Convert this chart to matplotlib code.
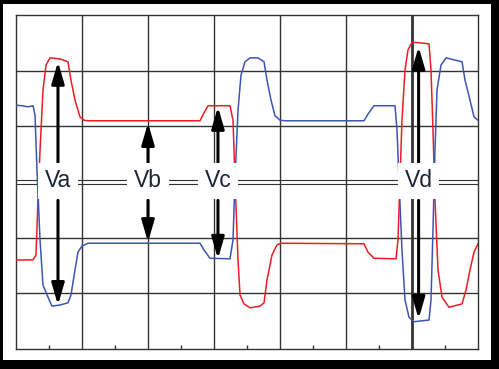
import numpy as np
import matplotlib
matplotlib.use("Agg")
import matplotlib.pyplot as plt
from matplotlib.patches import Rectangle

# Waveform data in grid divisions (x: 0..7, y: -3..3)
red_x = [0.0, 0.258, 0.303, 0.333, 0.364, 0.409, 0.455, 0.515, 0.667, 0.788, 0.833, 0.894, 0.970, 1.030,
         1.091, 2.788, 2.848, 2.909, 3.242, 3.288, 3.318, 3.364, 3.394, 3.455, 3.545, 3.697, 3.758, 3.803,
         3.879, 3.955, 4.015, 5.273, 5.333, 5.424, 5.758, 5.788, 5.818, 5.848, 5.894, 5.939, 6.000, 6.121,
         6.258, 6.288, 6.318, 6.348, 6.394, 6.455, 6.561, 6.758, 6.818, 6.879, 6.939, 7.0]
red_y = [-1.40, -1.40, -1.31, -0.32, 0.57, 1.65, 2.10, 2.23, 2.21, 2.16, 1.83, 1.47, 1.17, 1.11,
         1.10, 1.10, 1.24, 1.37, 1.37, 1.11, 0.04, -1.40, -2.03, -2.19, -2.26, -2.23, -2.17, -1.76,
         -1.31, -1.13, -1.10, -1.11, -1.26, -1.37, -1.38, -1.04, 0.04, 1.11, 2.01, 2.37, 2.51, 2.50,
         2.48, 2.01, 0.93, -0.32, -1.58, -2.07, -2.25, -2.19, -1.94, -1.58, -1.26, -1.11]

blue_x = [0.0, 0.091, 0.182, 0.258, 0.288, 0.318, 0.364, 0.409, 0.470, 0.545, 0.667, 0.788, 0.833, 0.894,
          0.939, 1.000, 1.091, 2.788, 2.848, 2.939, 3.242, 3.288, 3.318, 3.364, 3.409, 3.470, 3.545, 3.667,
          3.758, 3.803, 3.864, 3.924, 4.000, 4.076, 5.273, 5.333, 5.424, 5.742, 5.773, 5.803, 5.848, 5.894,
          5.955, 6.030, 6.258, 6.288, 6.318, 6.348, 6.379, 6.439, 6.515, 6.652, 6.758, 6.803, 6.879, 6.939, 7.0]
blue_y = [1.38, 1.37, 1.35, 1.37, 1.20, 0.22, -1.04, -1.85, -2.03, -2.23, -2.21, -2.17, -2.03, -1.58,
          -1.26, -1.15, -1.10, -1.10, -1.22, -1.37, -1.38, -1.04, 0.04, 1.29, 1.92, 2.16, 2.23, 2.23,
          2.16, 1.83, 1.47, 1.19, 1.11, 1.10, 1.10, 1.22, 1.37, 1.37, 0.93, 0.04, -1.22, -2.12,
          -2.43, -2.51, -2.48, -2.12, -0.86, 0.57, 1.65, 2.10, 2.23, 2.19, 2.16, 1.83, 1.47, 1.17, 1.11]

# Measurement arrows
labels = ["Va", "Vb", "Vc", "Vd"]
arrow_x = [0.636, 2.0, 3.06, 6.1]
arrow_top = [2.16, 1.06, 1.35, 2.43]
arrow_bottom = [-2.21, -1.08, -1.38, -2.46]

fig = plt.figure(figsize=(4.99, 3.69), dpi=100, facecolor="black")
fig.patches.append(Rectangle((3 / 499, 9 / 369), 488 / 499, 356 / 369,
                             transform=fig.transFigure, facecolor="white",
                             edgecolor="none", zorder=-10))
ax = fig.add_axes([16 / 499, 20 / 369, 462 / 499, 334 / 369])
ax.set_zorder(5)
ax.set_xlim(0, 7)
ax.set_ylim(-3, 3)
ax.set_facecolor("white")

gc = "#333333"
for xv in range(1, 7):
    ax.axvline(xv, color=gc, lw=2.0 if xv == 6 else 1.0, zorder=1)
for yv in [-2, -1, 1, 2]:
    ax.axhline(yv, color=gc, lw=1.0, zorder=1)
for dy in (-0.027, 0.027):
    ax.axhline(dy, color=gc, lw=0.8, zorder=1)

for s in ax.spines.values():
    s.set_color(gc)
    s.set_linewidth(1.0)

ax.set_xticks([])
ax.set_yticks([])
ax.set_xticks(np.arange(0.5, 7, 1), minor=True)
ax.tick_params(axis="x", which="minor", direction="in", length=3, width=1, color=gc,
               labelbottom=False)

ax.plot(red_x, red_y, color="#ee1c25", lw=1.1, zorder=3)
ax.plot(blue_x, blue_y, color="#3d55b5", lw=1.1, zorder=3)

for lab, x, yt, yb in zip(labels, arrow_x, arrow_top, arrow_bottom):
    for y0, y1 in ((0.33, yt), (-0.33, yb)):
        ax.annotate("", xy=(x, y1), xytext=(x, y0),
                    arrowprops=dict(arrowstyle="-|>,head_length=1.3,head_width=0.38",
                                    mutation_scale=10, lw=2.2, color="black",
                                    shrinkA=0, shrinkB=0), zorder=4)
    ax.text(x, 0.02, lab, ha="center", va="center", fontsize=16.5,
            family=["Liberation Sans", "DejaVu Sans"], color="#1c2535", zorder=5,
            bbox=dict(boxstyle="square,pad=0.3", facecolor="white", edgecolor="none"))

fig.savefig("out.png", dpi=100, facecolor="black")
